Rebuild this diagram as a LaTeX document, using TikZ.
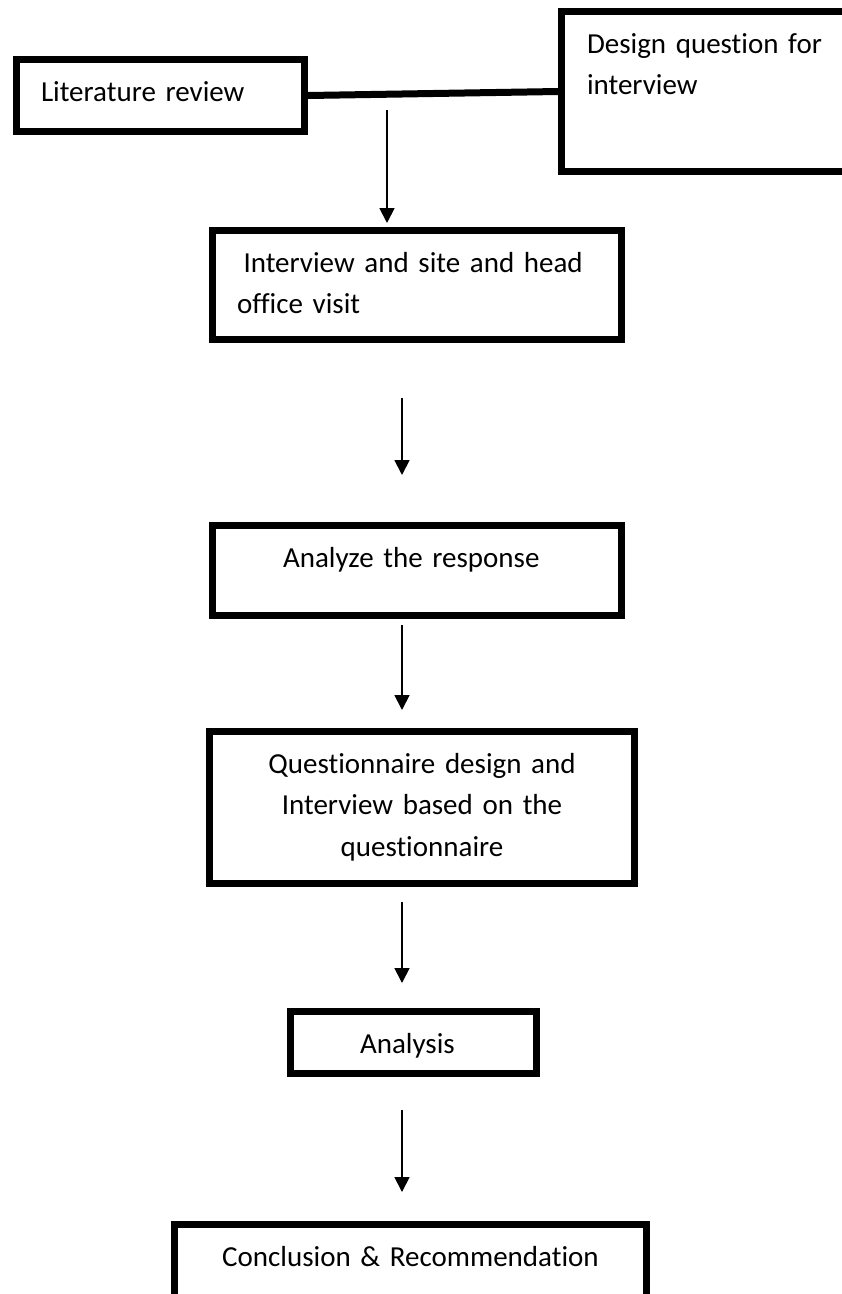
\documentclass[tikz,border=0pt]{standalone}
\usepackage{fontspec}
\setmainfont[Ligatures={NoCommon,NoContextual},WordSpace=0.7]{Carlito}
\usetikzlibrary{arrows.meta}

\tikzset{
  box/.style={draw, rectangle, line width=7pt, inner sep=0pt, text height=30pt,
    font=\fontsize{29}{41.5}\selectfont},
  flow/.style={line width=1.8pt, -{Triangle[width=15pt,length=15pt]}},
}

\begin{document}
\begin{tikzpicture}[x=1pt,y=1pt,yscale=-1]
\useasboundingbox (0,0) rectangle (842,1294);
\clip (0,0) rectangle (842,1294);

% Boxes
\node[box, minimum width=288pt, minimum height=72pt, text width=239pt, align=left, text depth=18pt] (litrev) at (160.5,95.5) {Literature review};
\node[box, minimum width=291pt, minimum height=160pt, text width=240pt, align=left, text depth=107pt] (design) at (707,91.5) {Design question for\\interview};
\node[box, minimum width=409pt, minimum height=109pt, text width=360pt, align=left, text depth=56pt] (visit) at (417,285) {\hspace*{6.5pt}Interview and site and head\\office visit};
\node[box, minimum width=409pt, minimum height=90pt, text width=268pt, align=left, text depth=37pt] (response) at (417,570.5) {Analyze the response};
\node[box, minimum width=425pt, minimum height=152pt, text width=400pt, align=center, text depth=99pt] (questionnaire) at (422,807.5) {Questionnaire design and\\Interview based on the\\questionnaire};
\node[box, minimum width=246pt, minimum height=62pt, text width=107pt, align=left, text depth=9pt] (analysis) at (413.5,1042.5) {Analysis};
\node[box, minimum width=472pt, minimum height=80pt, text width=440pt, align=center, text depth=26pt] (conclusion) at (410.5,1264.5) {Conclusion \& Recommendation};

%Straight Lines
\draw[line width=7pt] (litrev.east) -- (design.west);

% Arrows
\coordinate (top) at (387,110);
\coordinate (col) at (402,0);
\draw[flow, shorten >=4pt] (top) -- (visit.north -| top);
\draw[flow, shorten <=55pt, shorten >=47pt] (visit.south -| col) -- (response.north -| col);
\draw[flow, shorten <=6pt, shorten >=18pt] (response.south -| col) -- (questionnaire.north -| col);
\draw[flow, shorten <=15pt, shorten >=25pt] (questionnaire.south -| col) -- (analysis.north -| col);
\draw[flow, shorten <=33pt, shorten >=29pt] (analysis.south -| col) -- (conclusion.north -| col);

\end{tikzpicture}
\end{document}
